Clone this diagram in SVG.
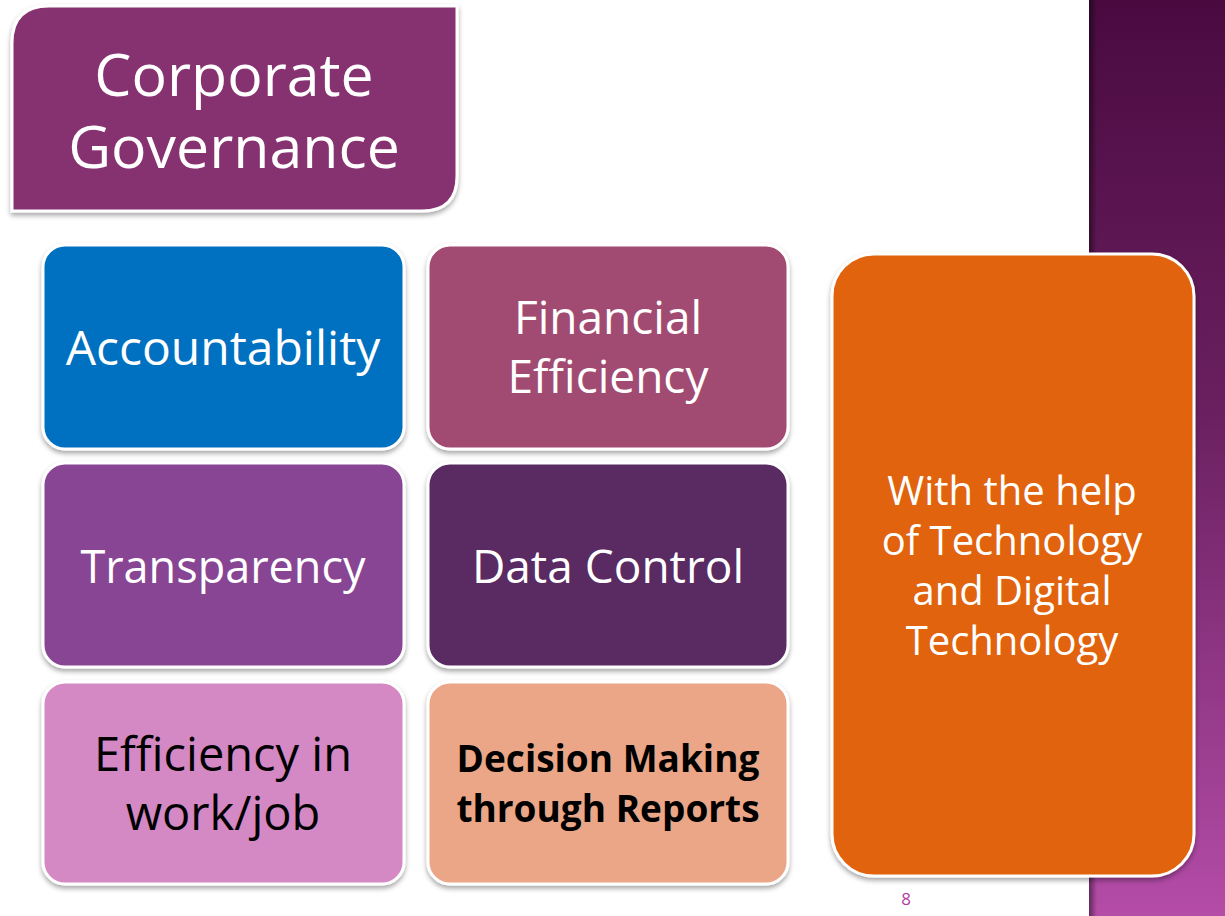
<svg xmlns="http://www.w3.org/2000/svg" width="1225" height="916" viewBox="0 0 1225 916">
  <defs>
    <linearGradient id="bandGrad" x1="0" y1="0" x2="0" y2="1">
      <stop offset="0" stop-color="#4a0a40"/>
      <stop offset="0.45" stop-color="#6a2060"/>
      <stop offset="1" stop-color="#b44ca8"/>
    </linearGradient>
    <linearGradient id="bandEdge" x1="0" y1="0" x2="1" y2="0">
      <stop offset="0" stop-color="#000" stop-opacity="0.45"/>
      <stop offset="1" stop-color="#000" stop-opacity="0"/>
    </linearGradient>
    <filter id="shadow" x="-10%" y="-10%" width="120%" height="125%">
      <feDropShadow dx="0" dy="3" stdDeviation="2.5" flood-color="#000" flood-opacity="0.35"/>
    </filter>
    <style>
      .box { stroke: #ffffff; stroke-width: 3; filter: url(#shadow); }
      .lbl { font-family: "Open Sans", "Noto Sans", "Liberation Sans", sans-serif; text-anchor: middle; fill: #ffffff; }
      .dark { fill: #000000; }
    </style>
  </defs>

  <!-- page background -->
  <rect x="0" y="0" width="1225" height="916" fill="#ffffff"/>

  <!-- decorative side band -->
  <rect x="1089" y="0" width="136" height="916" fill="url(#bandGrad)"/>
  <rect x="1089" y="0" width="8" height="916" fill="url(#bandEdge)"/>

  <!-- title -->
  <g id="title">
    <path class="box" d="M12 43 Q12 6 49 6 L457 6 L457 176 Q457 211 422 211 L12 211 Z" fill="#87306f"/>
    <text class="lbl" font-size="59"><tspan x="234" y="96">Corporate</tspan><tspan x="234" y="168">Governance</tspan></text>
  </g>

  <g id="accountability">
    <rect class="box" x="43" y="245" width="361" height="204" rx="22" fill="#0070c0"/>
    <text class="lbl" x="223" y="365" font-size="48">Accountability</text>
  </g>

  <g id="financial-efficiency">
    <rect class="box" x="428" y="245" width="360" height="204" rx="22" fill="#a24b72"/>
    <text class="lbl" font-size="46"><tspan x="608" y="334">Financial</tspan><tspan x="608" y="393">Efficiency</tspan></text>
  </g>

  <g id="transparency">
    <rect class="box" x="43" y="463" width="361" height="204" rx="22" fill="#874494"/>
    <text class="lbl" x="223" y="583" font-size="45">Transparency</text>
  </g>

  <g id="data-control">
    <rect class="box" x="428" y="463" width="360" height="204" rx="22" fill="#5a2c62"/>
    <text class="lbl" x="608" y="583" font-size="46">Data Control</text>
  </g>

  <g id="efficiency-work">
    <rect class="box" x="43" y="682" width="361" height="202" rx="22" fill="#d488c4"/>
    <text class="lbl dark" font-size="47"><tspan x="223" y="771">Efficiency in</tspan><tspan x="223" y="830">work/job</tspan></text>
  </g>

  <g id="decision-making">
    <rect class="box" x="428" y="682" width="360" height="202" rx="22" fill="#eaa686"/>
    <text class="lbl dark" font-size="37" font-weight="bold"><tspan x="608" y="772">Decision Making</tspan><tspan x="608" y="822">through Reports</tspan></text>
  </g>

  <g id="technology">
    <rect class="box" x="832" y="254" width="362" height="622" rx="42" fill="#e1640a"/>
    <text class="lbl" font-size="40"><tspan x="1012" y="505">With the help</tspan><tspan x="1012" y="555">of Technology</tspan><tspan x="1012" y="605">and Digital</tspan><tspan x="1012" y="655">Technology</tspan></text>
  </g>

  <!-- connectors: none drawn -->
  <g id="connectors"/>

  <!-- slide number -->
  <text x="906" y="905" font-family="Open Sans, Noto Sans, sans-serif" font-size="17" text-anchor="middle" fill="#b040a0">8</text>
</svg>
